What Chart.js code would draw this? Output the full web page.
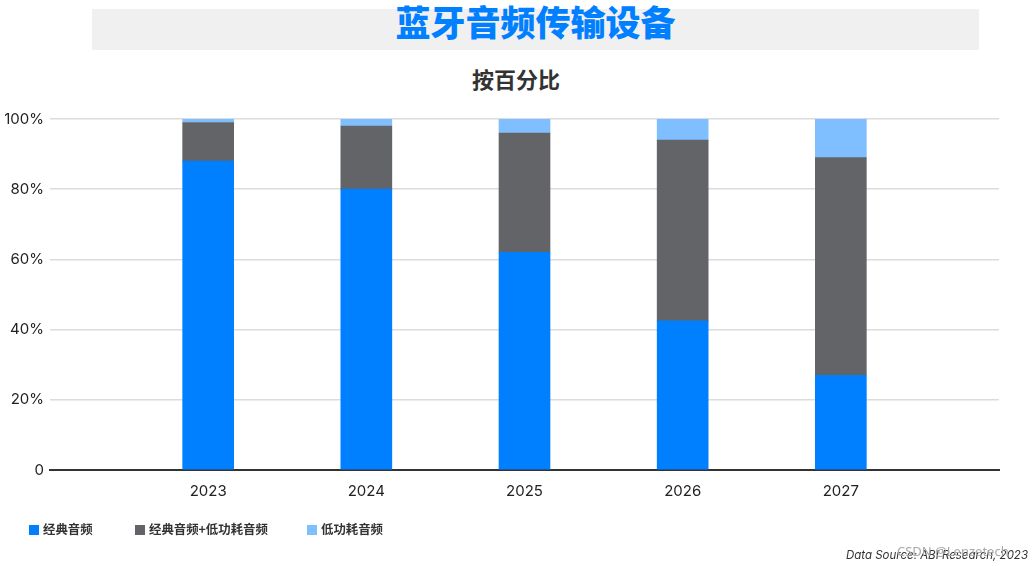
<!DOCTYPE html>
<html>
<head>
<meta charset="utf-8">
<script src="https://cdn.jsdelivr.net/npm/chart.js@4"></script>
<style>
    body { margin: 0; background: #fff; font-family: "Inter", "Noto Sans CJK SC", sans-serif; }
    #wrap { position: relative; width: 1032px; height: 566px; }
    #titleBar { position: absolute; left: 92px; top: 9px; width: 887px; height: 41px; background: #f0f0f0; }
    #title { position: absolute; left: 92px; top: 0px; width: 887px; text-align: center; font-family: "Noto Sans CJK SC", sans-serif; font-weight: 900; font-size: 35px; line-height: 42px; color: #0080ff; }
    #subtitle { position: absolute; left: 0; top: 63px; width: 1032px; text-align: center; font-family: "Noto Sans CJK SC", sans-serif; font-weight: 700; font-size: 22px; line-height: 30px; color: #333; }
    #legend { position: absolute; top: 520px; left: 0; font-family: "Noto Sans CJK SC", sans-serif; font-weight: 700; font-size: 12.4px; color: #333; }
    .item { position: absolute; white-space: nowrap; line-height: 18px; }
    .box { display: inline-block; width: 10px; height: 10px; margin-right: 4px; vertical-align: -1px; }
    #source { position: absolute; right: 4px; top: 548px; font-family: "Inter", sans-serif; font-style: italic; font-size: 11.5px; color: #333; }
    #mark { position: absolute; left: 897px; top: 542px; font-family: "Noto Sans", sans-serif; font-size: 13px; color: #a8a8a8; }
    canvas { position: absolute; left: 0; top: 0; }
</style>
</head>
<body>
<div id="wrap">
    <div id="titleBar"></div>
    <div id="title">蓝牙音频传输设备</div>
    <div id="subtitle">按百分比</div>
    <canvas id="chart" width="1032" height="566"></canvas>
    <div id="legend"></div>
    <div id="source">Data Source: ABI Research, 2023</div>
    <div id="mark">CSDN @Lenzetech</div>
</div>
<script>
// padded with empty slots on both sides, like the original
var years = ['', '2023', '2024', '2025', '2026', '2027', ''];
var classic = [null, 88, 80, 62, 42.5, 27, null];
var dual = [null, 11, 18, 34, 51.5, 62, null];
var leAudio = [null, 1, 2, 4, 6, 11, null];
var yTicks = [0, 20, 40, 60, 80, 100];
var seriesNames = ['经典音频', '经典音频+低功耗音频', '低功耗音频'];
var seriesColors = ['#0080ff', '#636468', '#80bfff'];

var ctx = document.getElementById('chart').getContext('2d');
var chart = new Chart(ctx, {
    type: 'bar',
    data: {
        labels: years,
        datasets: [
            { label: seriesNames[0], data: classic, backgroundColor: seriesColors[0] },
            { label: seriesNames[1], data: dual, backgroundColor: seriesColors[1] },
            { label: seriesNames[2], data: leAudio, backgroundColor: seriesColors[2] }
        ]
    },
    options: {
        responsive: false,
        animation: false,
        datasets: { bar: { barThickness: 51, borderWidth: 0 } },
        layout: { padding: { left: 0, right: 33, top: 119, bottom: 54 } },
        plugins: {
            tooltip: { enabled: false },
            legend: { display: false }
        },
        scales: {
            x: {
                stacked: true,
                offset: false,
                grid: { display: false, drawTicks: false },
                border: { display: true, color: '#333', width: 2 },
                ticks: {
                    color: '#222',
                    padding: 12,
                    maxRotation: 0,
                    autoSkip: false,
                    font: { family: 'Inter, sans-serif', size: 15 }
                }
            },
            y: {
                stacked: true,
                min: 0,
                max: 100,
                afterFit: function(scale) { scale.width = 50; },
                afterBuildTicks: function(scale) {
                    scale.ticks = yTicks.map(function(v) { return { value: v }; });
                },
                grid: { color: '#dcdcdc', lineWidth: 1.5, drawTicks: false },
                border: { display: false },
                ticks: {
                    color: '#222',
                    padding: 6,
                    font: { family: 'Inter, sans-serif', size: 15 },
                    callback: function(v) { return v === 0 ? '0' : v + '%'; }
                }
            }
        }
    }
});

// legend laid out like the original, from the chart's own datasets
var legendLeft = [29, 135, 307];
var legend = document.getElementById('legend');
chart.data.datasets.forEach(function(ds, i) {
    var el = document.createElement('div');
    el.className = 'item';
    el.style.left = legendLeft[i] + 'px';
    el.innerHTML = '<span class="box" style="background:' + ds.backgroundColor + '"></span>' + ds.label;
    legend.appendChild(el);
});
</script>
</body>
</html>
